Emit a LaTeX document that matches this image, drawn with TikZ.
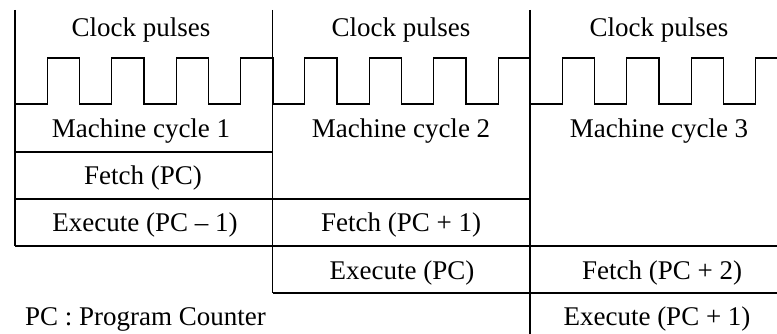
\documentclass[tikz,border=0pt]{standalone}
\usepackage{fontspec}
\setmainfont{Liberation Serif}
\begin{document}
\begin{tikzpicture}[x=1pt,y=-1pt,
  rule/.style={line width=1.1pt,black},
  lbl/.style={anchor=base,inner sep=0pt,font=\fontsize{27}{32}\selectfont}]
\useasboundingbox (0,0) rectangle (777,334);
% vertical column rules
\draw[rule] (15,10) -- (15,246);
\draw[rule] (272.5,10) -- (272.5,293);
\draw[rule] (530,10) -- (530,334);
% clock waveform
\def\hp{32.25}
\draw[rule] (15,104)
  \foreach \c in {0,1,2}{
    \foreach \k in {0,1,2,3}{
      -- ({15+\c*257.5+(2*\k+1)*\hp},104) -- ({15+\c*257.5+(2*\k+1)*\hp},58)
      -- ({15+\c*257.5+(2*\k+2)*\hp},58) -- ({15+\c*257.5+(2*\k+2)*\hp},104)
    }
  };
\fill[white] (777,0) rectangle (790,110);
% horizontal rules
\draw[rule] (15,152) -- (272.5,152);
\draw[rule] (15,199) -- (530,199);
\draw[rule] (15,246) -- (777,246);
\draw[rule] (272.5,293) -- (777,293);
% texts
\node[lbl] (cp1) at (141,37) {Clock pulses};
\node[lbl] (cp2) at (401,37) {Clock pulses};
\node[lbl] (cp3) at (659,37) {Clock pulses};
\node[lbl] (mc1) at (141,138) {Machine cycle 1};
\node[lbl] (mc2) at (401,138) {Machine cycle 2};
\node[lbl] (mc3) at (659,138) {Machine cycle 3};
\node[lbl] (f1) at (143,185) {Fetch (PC)};
\node[lbl] (e1) at (145,232) {Execute (PC – 1)};
\node[lbl] (f2) at (401,232) {Fetch (PC + 1)};
\node[lbl] (e2) at (402,279) {Execute (PC)};
\node[lbl] (f3) at (662,279) {Fetch (PC + 2)};
\node[lbl] (e3) at (657,325) {Execute (PC + 1)};
\node[lbl,anchor=base west] (pc) at (25,325) {PC : Program Counter};
\end{tikzpicture}
\end{document}
